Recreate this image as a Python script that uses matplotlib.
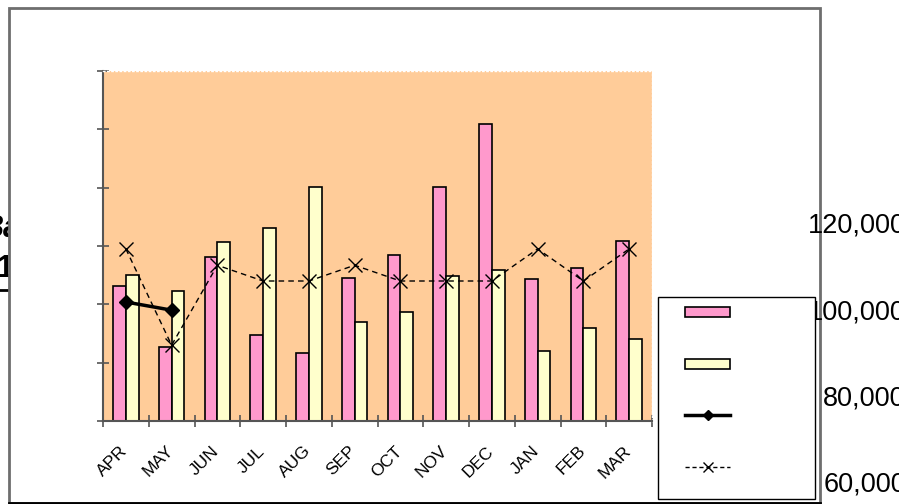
import numpy as np
import matplotlib
matplotlib.use('Agg')
import matplotlib.pyplot as plt
import matplotlib.transforms as mtransforms
from matplotlib.patches import Rectangle
from matplotlib.lines import Line2D

plt.rcParams['font.family'] = ['Liberation Sans', 'DejaVu Sans']

# DATA (one tick step = 10 units)
months = ['APR', 'MAY', 'JUN', 'JUL', 'AUG', 'SEP', 'OCT', 'NOV', 'DEC', 'JAN', 'FEB', 'MAR']
pink_vals = [23.1, 12.7, 28.1, 14.7, 11.7, 24.5, 28.5, 40.1, 50.9, 24.3, 26.2, 30.9]
yellow_vals = [25.0, 22.3, 30.7, 33.1, 40.1, 17.0, 18.7, 24.9, 25.9, 12.0, 15.9, 14.1]
solid_vals = [20.4, 19.0]
dashed_vals = [29.5, 13.0, 26.7, 24.0, 24.0, 26.7, 24.0, 24.0, 24.0, 29.5, 24.0, 29.5]
right_labels = ['120,000', '100,000', '80,000', '60,000']
left_labels = ['Ba', '1']

W, H = 899, 504
fig = plt.figure(figsize=(W / 100, H / 100), dpi=100)

def fx(px):
    return px / W

def fy(py):
    return 1 - py / H

# clipped text behind the chart box (left)
fig.text(fx(20), fy(229), left_labels[0], ha='right', va='center', fontsize=22,
         fontweight='bold', fontstyle='italic', zorder=0.1)
fig.text(fx(13), fy(269), left_labels[1], ha='right', va='center', fontsize=22,
         fontweight='bold', zorder=0.1)
fig.add_artist(Line2D([0, fx(14)], [fy(290), fy(290)], color='black', lw=2, zorder=0.1))

# white chart box
fig.patches.append(Rectangle((fx(9), fy(503)), fx(820) - fx(9), fy(8) - fy(503),
                             transform=fig.transFigure, facecolor='white',
                             edgecolor='#6e6e6e', lw=2, zorder=0.3))
fig.add_artist(Line2D([fx(9), fx(820)], [fy(503), fy(503)], color='black', lw=2, zorder=0.35))

# labels on the right, over the box edge
for i, lab in enumerate(right_labels):
    fig.text(fx(906), fy(226 + 86.3 * i), lab, ha='right', va='center', fontsize=19.5, zorder=0.5)

ax = fig.add_axes([fx(103), fy(421), fx(652) - fx(103), fy(71) - fy(421)])
ax.set_zorder(1)
ax.set_facecolor('#FFCC99')

x = np.arange(len(months))
bw = 0.28
ax.bar(x - bw / 2, pink_vals, bw, color='#FF99CC', edgecolor='black', lw=1.2, zorder=2)
ax.bar(x + bw / 2, yellow_vals, bw, color='#FFFFCC', edgecolor='black', lw=1.2, zorder=2)
ax.plot(x[:len(solid_vals)], solid_vals, color='black', lw=2.5, marker='D', ms=7.5, zorder=3)
ax.plot(x, dashed_vals, color='black', lw=1, ls=(0, (4, 3)), marker='x', ms=10, mew=1, zorder=3)

ax.set_xlim(-0.5, len(months) - 0.5)
ax.set_ylim(0, 60)
ax.set_yticks(np.arange(0, 61, 10))
ax.set_yticklabels([])
ax.set_xticks(np.arange(len(months) + 1) - 0.5)
ax.set_xticklabels([])
ax.set_xticks(x, minor=True)
ax.set_xticklabels(months, minor=True, rotation=45, ha='right', rotation_mode='anchor',
                   fontsize=12.5)
ax.tick_params(axis='x', which='minor', length=0, pad=16)
ax.tick_params(axis='both', which='major', direction='inout', length=9, width=1.2,
               color='#555555')
shift = mtransforms.ScaledTranslation(-6 / 100, 0, fig.dpi_scale_trans)
for lab in ax.get_xticklabels(minor=True):
    lab.set_transform(lab.get_transform() + shift)
for s in ['left', 'bottom']:
    ax.spines[s].set_color('#555555')
    ax.spines[s].set_linewidth(1.5)
for s in ['top', 'right']:
    ax.spines[s].set_color('white')
    ax.spines[s].set_linestyle((0, (1, 2)))
    ax.spines[s].set_linewidth(1)

# legend box with keys only
fig.patches.append(Rectangle((fx(658), fy(499)), fx(815) - fx(658), fy(297) - fy(499),
                             transform=fig.transFigure, facecolor='white',
                             edgecolor='black', lw=1, zorder=2))
handles = [
    Rectangle((0, 0), 1, 1, facecolor='#FF99CC', edgecolor='black', lw=1.2),
    Rectangle((0, 0), 1, 1, facecolor='#FFFFCC', edgecolor='black', lw=1.2),
    Line2D([], [], color='black', lw=2.5, marker='D', ms=5),
    Line2D([], [], color='black', lw=1, ls=(0, (3, 2)), marker='x', ms=7, mew=1),
]
leg = fig.legend(handles, ['', '', '', ''], loc='upper left',
                 bbox_to_anchor=(fx(685), fy(306)), frameon=False, fontsize=10,
                 borderpad=0, borderaxespad=0, handlelength=3.25, handleheight=0.72,
                 labelspacing=2.7, handletextpad=0)
leg.set_zorder(3)

fig.savefig('out.png', dpi=100)
